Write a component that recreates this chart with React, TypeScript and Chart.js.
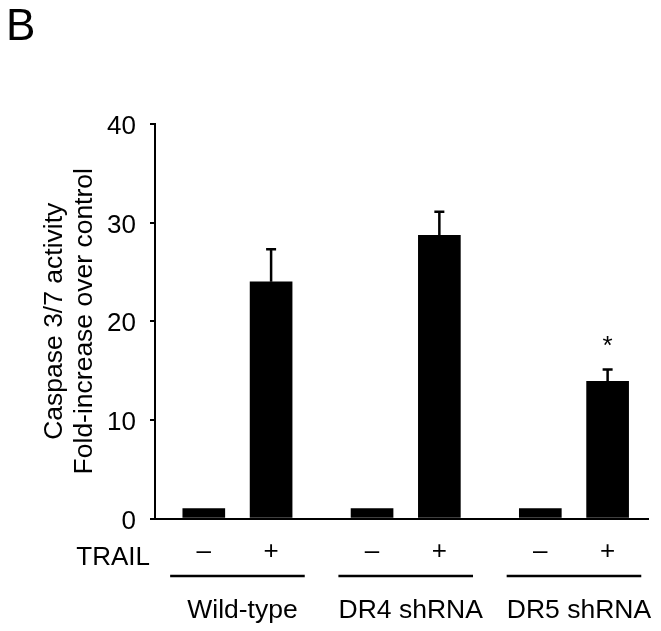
import React, { useEffect, useRef } from 'react';
import { Chart, registerables } from 'chart.js';

Chart.register(...registerables);

// ---- data ----
const groups = ['Wild-type', 'DR4 shRNA', 'DR5 shRNA'];
const trailLabels = ['\u2013', '+'];
const means = [1.0, 24.0, 1.0, 28.7, 1.0, 13.9];
const errors = [0, 3.3, 0, 2.4, 0, 1.2];
const significant = [false, false, false, false, false, true];
const yTicks = [0, 10, 20, 30, 40];
const yAxisTitle = ['Caspase 3/7 activity', 'Fold-increase over control'];
const rowLabel = 'TRAIL';
const panelLabel = 'B';

// ---- layout ----
const GROUP_STARTS = [0, 5, 10];
const BAR_OFFSETS = [0, 2];
const positions = GROUP_STARTS.flatMap((g) => BAR_OFFSETS.map((o) => g + o));
const FONT = '"Liberation Sans", Arial, Helvetica, sans-serif';
const INK = '#000';

const annotations = {
  id: 'annotations',
  afterDatasetsDraw(chart: any) {
    const { ctx, scales, chartArea } = chart;
    const x = scales.x;
    const y = scales.y;
    const bottom = chartArea.bottom;
    ctx.save();
    ctx.fillStyle = INK;
    ctx.strokeStyle = INK;

    positions.forEach((p, i) => {
      const px = x.getPixelForValue(p);
      const top = y.getPixelForValue(means[i]);
      const et = y.getPixelForValue(means[i] + errors[i]);
      if (errors[i] > 0) {
        ctx.lineWidth = 2.5;
        ctx.beginPath();
        ctx.moveTo(px, top);
        ctx.lineTo(px, et);
        ctx.moveTo(px - 5, et);
        ctx.lineTo(px + 5, et);
        ctx.stroke();
      }
      if (significant[i]) {
        ctx.font = `26px ${FONT}`;
        ctx.textAlign = 'center';
        ctx.textBaseline = 'alphabetic';
        ctx.fillText('*', px, et - 16);
      }
      ctx.font = `26px ${FONT}`;
      ctx.textAlign = 'center';
      ctx.textBaseline = 'alphabetic';
      ctx.fillText(trailLabels[i % 2], px, bottom + 40.5);
    });

    // TRAIL row label
    ctx.font = `26px ${FONT}`;
    ctx.textAlign = 'right';
    ctx.textBaseline = 'alphabetic';
    ctx.fillText(rowLabel, chartArea.left - 5, bottom + 46.5);

    // group underlines and names
    GROUP_STARTS.forEach((g, gi) => {
      const x0 = x.getPixelForValue(g - 1);
      const x1 = x.getPixelForValue(g + 3);
      ctx.lineWidth = 2.5;
      ctx.beginPath();
      ctx.moveTo(x0, bottom + 57.5);
      ctx.lineTo(x1, bottom + 57.5);
      ctx.stroke();
      ctx.font = `26.5px ${FONT}`;
      ctx.textAlign = 'center';
      ctx.fillText(groups[gi], (x0 + x1) / 2 + 5, bottom + 99.5);
    });

    // panel label
    ctx.font = `44px ${FONT}`;
    ctx.textAlign = 'left';
    ctx.textBaseline = 'alphabetic';
    ctx.fillText(panelLabel, 6, 40);
    ctx.restore();
  },
};

export default function App() {
  const ref = useRef<HTMLCanvasElement | null>(null);
  useEffect(() => {
    if (!ref.current) return;
    const chart = new Chart(ref.current, {
      type: 'bar',
      data: {
        datasets: [
          {
            data: positions.map((p, i) => ({ x: p, y: means[i] })),
            backgroundColor: INK,
            borderWidth: 0,
            barThickness: 42,
          },
        ],
      },
      options: {
        animation: false,
        responsive: false,
        devicePixelRatio: 1,
        layout: { padding: { left: 0, top: 124, right: 13, bottom: 112.5 } },
        plugins: { legend: { display: false }, tooltip: { enabled: false } },
        scales: {
          x: {
            type: 'linear',
            min: -1.45,
            max: 13.2,
            offset: false,
            grid: { display: false, offset: false },
            ticks: { display: false },
            border: { display: true, color: INK, width: 2 },
            afterFit: (s: any) => {
              s.height = 0;
            },
          },
          y: {
            type: 'linear',
            min: 0,
            max: 40,
            afterBuildTicks: (s: any) => {
              s.ticks = yTicks.map((v) => ({ value: v }));
            },
            grid: { drawOnChartArea: false, drawTicks: true, tickLength: 5, color: INK, lineWidth: 2 },
            border: { display: true, color: INK, width: 2 },
            ticks: {
              color: INK,
              padding: 14,
              labelOffset: 3,
              font: { family: FONT, size: 26 },
            },
            title: {
              display: true,
              text: yAxisTitle,
              color: INK,
              font: { family: FONT, size: 26.5, lineHeight: 30 / 26.5 },
              padding: { top: 40, bottom: 0 },
            },
            afterFit: (s: any) => {
              s.width = 155;
            },
          },
        },
      },
      plugins: [annotations],
    });
    return () => chart.destroy();
  }, []);
  return (
    <div style={{ position: 'fixed', left: 0, top: 0, width: 661, height: 631, background: '#fff' }}>
      <canvas ref={ref} width={661} height={631} style={{ display: 'block' }} />
    </div>
  );
}
